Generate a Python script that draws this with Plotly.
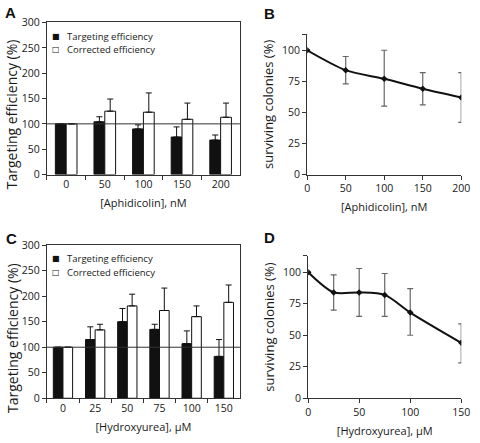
import plotly.graph_objects as go

# ---- data ----
aph_cats = ["0", "50", "100", "150", "200"]
aph_target = [100, 104, 90, 74, 68]
aph_target_err = [0, 10, 8, 20, 10]
aph_corr = [100, 125, 123, 109, 113]
aph_corr_err = [0, 24, 38, 32, 28]

hu_cats = ["0", "25", "50", "75", "100", "150"]
hu_target = [100, 115, 150, 135, 107, 82]
hu_target_err = [0, 25, 26, 10, 25, 33]
hu_corr = [100, 134, 181, 172, 160, 188]
hu_corr_err = [0, 11, 23, 44, 21, 34]

aph_conc = [0, 50, 100, 150, 200]
aph_surv = [100, 84, 77, 69, 62]
aph_surv_up = [0, 11, 23, 13, 20]
aph_surv_down = [0, 11, 22, 13, 20]

hu_conc = [0, 25, 50, 75, 100, 150]
hu_surv = [100, 84, 84, 82, 68, 44]
hu_surv_up = [0, 14, 19, 17, 19, 15]
hu_surv_down = [0, 14, 19, 17, 18, 16]

legend_labels = ["Targeting efficiency", "Corrected efficiency"]

FONT = "Open Sans"
TXT = "#1a1a1a"
AX = "#333333"
W, H = 480, 443

def px_x(p):
    return p / W

def px_y(p):
    return 1 - p / H

fig = go.Figure()

def add_bars(cats, tgt, tgt_err, cor, cor_err, xa, ya, w):
    fig.add_trace(go.Bar(
        x=cats, y=tgt, name=legend_labels[0], xaxis=xa, yaxis=ya,
        width=w, offset=-w, marker=dict(color="#111111", line=dict(color="#111111", width=1)),
        error_y=dict(type="data", array=tgt_err, symmetric=False, arrayminus=[0]*len(cats),
                     color="#111111", thickness=1, width=3),
        showlegend=False))
    fig.add_trace(go.Bar(
        x=cats, y=cor, name=legend_labels[1], xaxis=xa, yaxis=ya,
        width=w, offset=0, marker=dict(color="white", line=dict(color="#111111", width=1)),
        error_y=dict(type="data", array=cor_err, symmetric=False, arrayminus=[0]*len(cats),
                     color="#111111", thickness=1, width=3),
        showlegend=False))

add_bars(aph_cats, aph_target, aph_target_err, aph_corr, aph_corr_err, "x", "y", 0.28)
add_bars(hu_cats, hu_target, hu_target_err, hu_corr, hu_corr_err, "x3", "y3", 0.3)

def add_line(xv, yv, up, dn, xa, ya):
    fig.add_trace(go.Scatter(
        x=xv, y=yv, xaxis=xa, yaxis=ya, mode="lines+markers",
        line=dict(color="#111111", width=2, shape="spline", smoothing=0.8),
        marker=dict(symbol="diamond", size=5, color="#111111"),
        error_y=dict(type="data", array=up, arrayminus=dn, symmetric=False,
                     color="#666666", thickness=1.2, width=3),
        showlegend=False))

add_line(aph_conc, aph_surv, aph_surv_up, aph_surv_down, "x2", "y2")
add_line(hu_conc, hu_surv, hu_surv_up, hu_surv_down, "x4", "y4")

tickfont = dict(family=FONT, size=10.5, color=TXT)
xtitlefont = dict(family=FONT, size=11, color=TXT)

bar_x = dict(type="category", showline=True, linecolor=AX, linewidth=1, mirror=True,
             ticks="outside", tickson="boundaries", ticklen=4, tickcolor=AX,
             tickfont=tickfont, showgrid=False, zeroline=False)
bar_y = dict(range=[0, 300], tickvals=[0, 50, 100, 150, 200, 250, 300], showline=True,
             linecolor=AX, linewidth=1, mirror=True, ticks="outside", ticklen=4, tickcolor=AX,
             tickfont=tickfont, showgrid=False, zeroline=False)
line_y = dict(range=[0, 113], tickvals=[0, 25, 50, 75, 100, 113], ticktext=["0", "25", "50", "75", "100", ""],
              showline=True, linecolor=AX, linewidth=1, ticks="outside", ticklen=4, tickcolor=AX,
              tickfont=tickfont, showgrid=False, zeroline=False,
              title=dict(text="surviving colonies (%)", font=dict(family=FONT, size=13, color=TXT), standoff=5))
line_x = dict(showline=True, linecolor=AX, linewidth=1, ticks="outside", ticklen=4, tickcolor=AX,
              tickfont=tickfont, showgrid=False, zeroline=False, ticklabeloverflow="allow")

fig.update_layout(
    width=W, height=H, margin=dict(l=0, r=0, t=0, b=0),
    paper_bgcolor="white", plot_bgcolor="white",
    barmode="overlay",
    font=dict(family=FONT, color=TXT),
    xaxis=dict(bar_x, domain=[px_x(45), px_x(243)], anchor="y", range=[-0.5, 4.5],
               title=dict(text="[Aphidicolin], nM", font=xtitlefont, standoff=9)),
    yaxis=dict(bar_y, domain=[px_y(173), px_y(16)], anchor="x"),
    xaxis2=dict(line_x, domain=[px_x(312), px_x(470)], anchor="y2", range=[0, 200],
                tickvals=[0, 50, 100, 150, 200],
                title=dict(text="[Aphidicolin], nM", font=xtitlefont, standoff=9)),
    yaxis2=dict(line_y, domain=[px_y(173), px_y(28)], anchor="x2"),
    xaxis3=dict(bar_x, domain=[px_x(45), px_x(243)], anchor="y3", range=[-0.5, 5.5],
                title=dict(text="[Hydroxyurea], μM", font=xtitlefont, standoff=9)),
    yaxis3=dict(bar_y, domain=[px_y(404), px_y(246)], anchor="x3"),
    xaxis4=dict(line_x, domain=[px_x(313), px_x(470)], anchor="y4", range=[0, 150],
                tickvals=[0, 50, 100, 150],
                title=dict(text="[Hydroxyurea], μM", font=xtitlefont, standoff=9)),
    yaxis4=dict(line_y, domain=[px_y(404), px_y(257)], anchor="x4"),
)

for xr, yr in [("x", "y"), ("x3", "y3")]:
    fig.add_shape(type="line", xref=f"{xr} domain", yref=yr, x0=0, x1=1, y0=100, y1=100,
                  line=dict(color=AX, width=1), layer="above")

# y titles of bar panels (placed slightly below axis centre as in the original)
for yc in [111, 342]:
    fig.add_annotation(text="Targeting efficiency (%)", x=px_x(9), y=px_y(yc), xref="paper", yref="paper",
                       textangle=-90, showarrow=False, xanchor="center", yanchor="middle",
                       font=dict(family=FONT, size=14, color=TXT))

# legends of bar panels
for y0 in [30, 260]:
    for i, (sym, lab) in enumerate(zip(["■", "□"], legend_labels)):
        yy = y0 + i * 14
        fig.add_annotation(text=sym, x=px_x(54), y=px_y(yy), xref="paper", yref="paper",
                           showarrow=False, xanchor="center", yanchor="middle",
                           font=dict(family="DejaVu Sans", size=8, color="#111111"))
        fig.add_annotation(text=lab, x=px_x(64), y=px_y(yy), xref="paper", yref="paper",
                           showarrow=False, xanchor="left", yanchor="middle",
                           font=dict(family=FONT, size=9.5, color=TXT))

for txt, xp, yp in [("A", 0, 6), ("B", 266, 7), ("C", 1, 239), ("D", 266, 238)]:
    fig.add_annotation(text=f"<b>{txt}</b>", x=px_x(xp), y=px_y(yp), xref="paper", yref="paper",
                       xanchor="left", yanchor="middle", showarrow=False,
                       font=dict(family="Liberation Sans", size=15, color="#111111"))

fig.write_html("out.html", config={"displayModeBar": False},
               post_script="document.body.style.margin='0';document.body.style.padding='0';"
                           "document.body.style.overflow='hidden';")
